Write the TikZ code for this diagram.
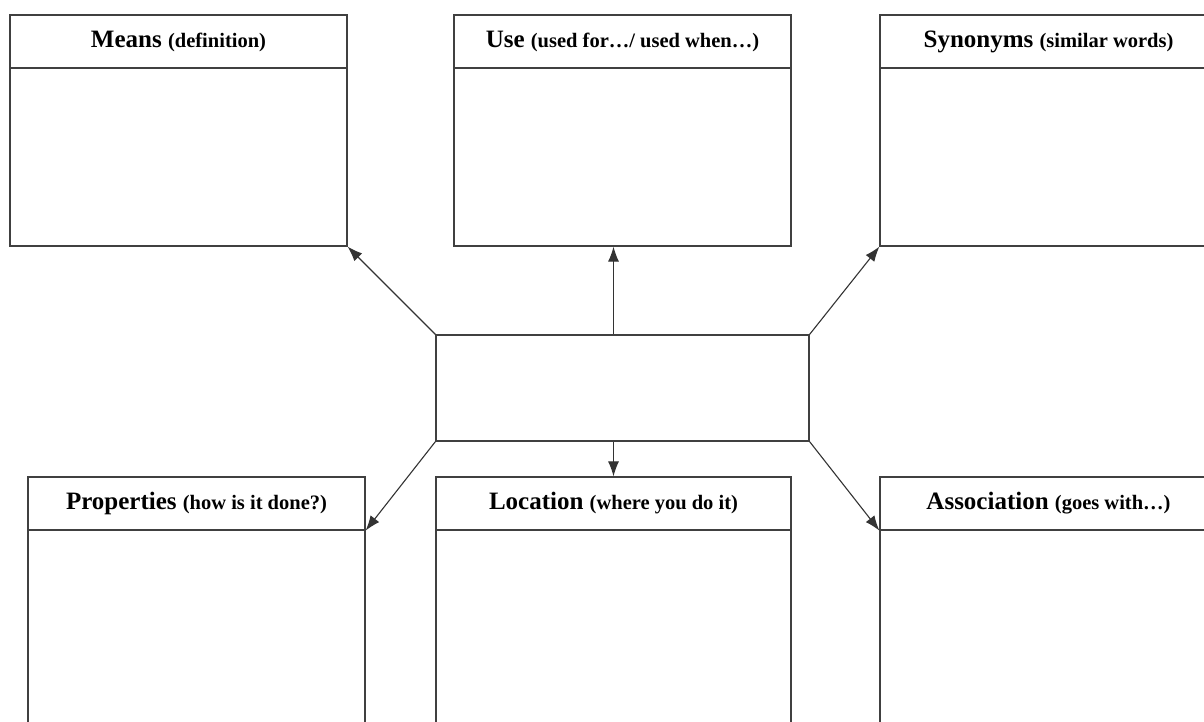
\documentclass[tikz,border=0pt]{standalone}
\usepackage{fontspec}
\setmainfont{Liberation Serif}
\usetikzlibrary{positioning}
\usetikzlibrary{arrows.meta}
\usetikzlibrary{calc}

\tikzset{
  card/.style={draw=black!75, line width=1.2pt, minimum width=337pt, inner sep=0pt},
  cardhead/.style={card, minimum height=53pt, anchor=north},
  link/.style={draw=black!80, line width=1.1pt, -{Latex[length=15pt,width=11pt]}},
}
\newcommand{\headtext}[2]{\bfseries\fontsize{25}{28}\selectfont #1 {\fontsize{20.5}{24}\selectfont #2}}

\begin{document}
\begin{tikzpicture}[x=1pt,y=-1pt]
    \useasboundingbox (0,0) rectangle (1204,721);
    \clip (0,0) rectangle (1204,721);

    % Define the boxes
    \node[card, minimum height=231pt] (means) at (178.5,130.5) {};
    \node[card, minimum height=231pt] (use) at (622.5,130.5) {};
    \node[card, minimum height=231pt] (syn) at (1048.5,130.5) {};
    \node[card, minimum width=373pt, minimum height=106pt] (hub) at (622.5,388) {};
    \node[card, minimum height=283pt] (prop) at (196.5,618.5) {};
    \node[card, minimum width=355pt, minimum height=283pt] (loc) at (613.5,618.5) {};
    \node[card, minimum height=283pt] (assoc) at (1048.5,618.5) {};

    % Headers
    \node[cardhead] (means-head) at (means.north) {\headtext{Means}{(definition)}};
    \node[cardhead] (use-head) at (use.north) {\headtext{Use}{(used for…/ used when…)}};
    \node[cardhead] (syn-head) at (syn.north) {\headtext{Synonyms}{(similar words)}};
    \node[cardhead] (prop-head) at (prop.north) {\headtext{Properties}{(how is it done?)}};
    \node[cardhead, minimum width=355pt] (loc-head) at (loc.north) {\headtext{Location}{(where you do it)}};
    \node[cardhead] (assoc-head) at (assoc.north) {\headtext{Association}{(goes with…)}};

    % Draw the arrows
    \foreach \from/\to in {hub.north west/means.south east, hub.north east/syn.south west,
                           hub.south west/prop-head.south east, hub.south east/assoc-head.south west}
        \draw[link] (\from) -- (\to);

    \draw[link] (hub.north -| loc.north) -- (use.south -| loc.north);
    \draw[link] (hub.south -| loc.north) -- (loc.north);
\end{tikzpicture}
\end{document}
